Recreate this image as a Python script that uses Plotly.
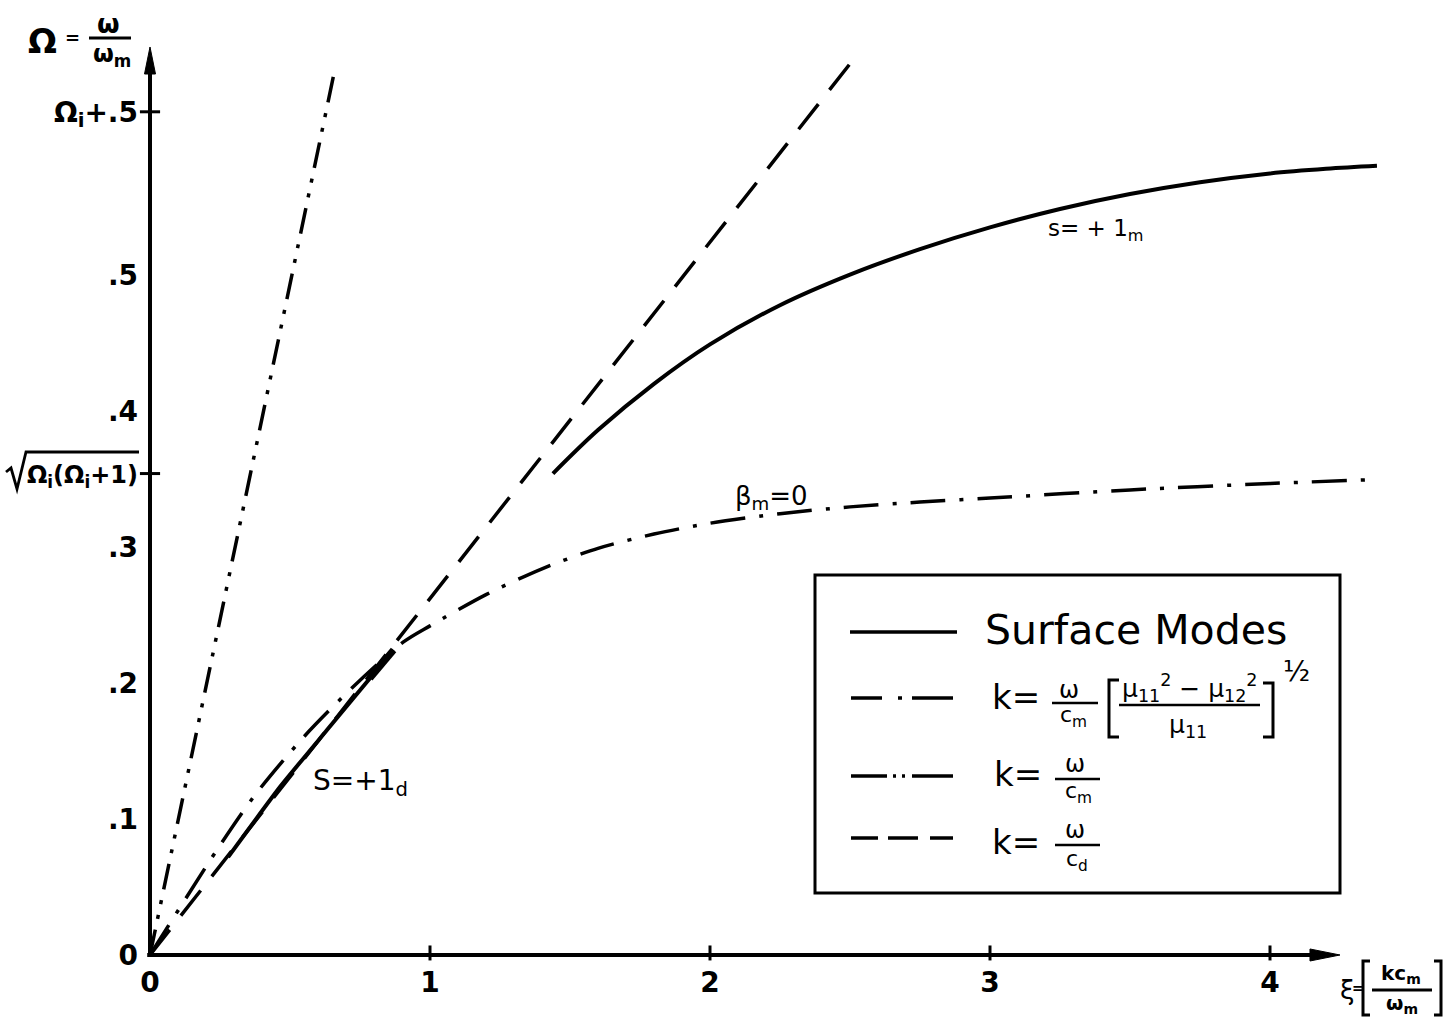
import plotly.graph_objects as go

# ---- curve data (xi = k c_m / omega_m, Omega = omega / omega_m) ----
cm_x = [0.0, 0.661]                      # k = w / c_m
cm_y = [0.0, 0.652]
cd_x = [0.0, 2.518]                      # k = w / c_d
cd_y = [0.0, 0.660]
beta_x = [0.0, 0.239, 0.375, 0.546, 0.721, 0.904, 1.0, 1.2, 1.4, 1.6, 1.8,
          2.0, 2.25, 2.5, 2.75, 3.0, 3.5, 4.0, 4.339]
beta_y = [0.0, 0.0772, 0.1176, 0.1596, 0.1963, 0.230, 0.242, 0.265, 0.284, 0.299, 0.3095,
          0.3175, 0.3245, 0.3295, 0.333, 0.336, 0.342, 0.3467, 0.3493]
surf_d_x = [0.279, 0.464, 0.632, 0.796, 0.870]          # s = +1_d branch
surf_d_y = [0.072, 0.1235, 0.1654, 0.206, 0.2243]
surf_d_end_x = [0.785, 0.870]
surf_d_end_y = [0.2035, 0.2243]
surf_m_x = [1.439, 1.6, 1.8, 2.0, 2.25, 2.5, 2.75, 3.0, 3.25, 3.5, 3.75, 4.0, 4.2, 4.382]
surf_m_y = [0.354, 0.386, 0.420, 0.449, 0.4778, 0.5003, 0.519, 0.535, 0.5485, 0.5595,
            0.5682, 0.5747, 0.5781, 0.5803]

x_ticks = [0, 1, 2, 3, 4]
x_ticktext = ["<b>0</b>", "<b>1</b>", "<b>2</b>", "<b>3</b>", "<b>4</b>"]
omega_i_root = 0.354
omega_i_half = 0.62
y_ticks = [0, 0.1, 0.2, 0.3, omega_i_root, 0.4, 0.5, omega_i_half]
y_ticktext = ["<b>0</b>", "<b>.1</b>", "<b>.2</b>", "<b>.3</b>",
              "<span style='font-size:24px'><b>Ω<sub>i</sub>(Ω<sub>i</sub>+1)</b></span>",
              "<b>.4</b>", "<b>.5</b>", "<b>Ω<sub>i</sub>+.5</b>"]
x_arrow_end = 4.246
y_arrow_end = 0.668

FONT = "DejaVu Sans"
W, H = 1450, 1018
ML, MR, MT, MB = 122, 40, 20, 29
XR = [-0.1, 4.5]
YR = [-0.025, 0.6875]


def px(x):
    return (x - ML) / (W - ML - MR)


def py(y):
    return (H - MB - y) / (H - MT - MB)


fig = go.Figure()

fig.add_trace(go.Scatter(x=cm_x, y=cm_y, mode="lines",
                         line=dict(color="black", width=3.5, dash="26px,11px,4px,11px,4px,11px")))
fig.add_trace(go.Scatter(x=cd_x, y=cd_y, mode="lines",
                         line=dict(color="black", width=3.5, dash="32px,18px")))
fig.add_trace(go.Scatter(x=beta_x, y=beta_y, mode="lines",
                         line=dict(color="black", width=3.5, dash="35px,14px,4px,14px",
                                   shape="spline", smoothing=0.8)))
fig.add_trace(go.Scatter(x=surf_d_x, y=surf_d_y, mode="lines",
                         line=dict(color="black", width=4, shape="spline", smoothing=0.5)))
fig.add_trace(go.Scatter(x=surf_d_end_x, y=surf_d_end_y, mode="lines",
                         line=dict(color="black", width=7)))
fig.add_trace(go.Scatter(x=surf_m_x, y=surf_m_y, mode="lines",
                         line=dict(color="black", width=4, shape="spline", smoothing=1.0)))

shapes = []
annotations = []


def seg(x0, y0, x1, y1, w=3):
    shapes.append(dict(type="line", xref="paper", yref="paper",
                       x0=px(x0), y0=py(y0), x1=px(x1), y1=py(y1),
                       line=dict(color="black", width=w)))


def poly(points, w=3, fill=None):
    d = "M " + " L ".join(f"{px(a):.5f},{py(b):.5f}" for a, b in points)
    if fill:
        d += " Z"
    shapes.append(dict(type="path", xref="paper", yref="paper", path=d,
                       line=dict(color="black", width=w),
                       fillcolor=fill if fill else "rgba(0,0,0,0)"))


def txt(x, y, s, size, anchor="center", bold=False):
    if bold:
        s = f"<b>{s}</b>"
    annotations.append(dict(x=px(x), y=py(y), xref="paper", yref="paper", text=s,
                            showarrow=False, xanchor=anchor, yanchor="middle",
                            font=dict(family=FONT, size=size, color="black")))


# axes with arrowheads
shapes.append(dict(type="line", xref="x", yref="y", x0=0, y0=0, x1=0, y1=y_arrow_end - 0.012,
                   line=dict(color="black", width=4)))
shapes.append(dict(type="line", xref="x", yref="y", x0=-0.01, y0=0, x1=x_arrow_end - 0.06, y1=0,
                   line=dict(color="black", width=4)))
poly([(150, 47), (144.5, 74), (155.5, 74)], w=1, fill="black")
poly([(1340, 955), (1310, 949), (1310, 961)], w=1, fill="black")

# small cross ticks
for xv in x_ticks[1:]:
    shapes.append(dict(type="line", xref="x", yref="y", x0=xv, x1=xv, y0=-0.004, y1=0.007,
                       line=dict(color="black", width=3)))
for yv in [omega_i_root, omega_i_half]:
    shapes.append(dict(type="line", xref="x", yref="y", x0=-0.036, x1=0.036, y0=yv, y1=yv,
                       line=dict(color="black", width=3)))

# radical sign over the root label
poly([(6, 472), (11, 468), (17, 489), (26, 452), (139, 452)], w=2.8)

# axis titles
txt(42, 41, "Ω", 34, bold=True)
txt(72, 38, "=", 18, bold=True)
txt(108, 24, "ω", 26, bold=True)
seg(89, 38, 131, 38, w=3)
txt(112, 56, "ω<sub>m</sub>", 24, bold=True)

txt(1347, 990, "ξ", 26)
txt(1358, 988, "=", 14, bold=True)
poly([(1370, 961), (1363, 961), (1363, 1015), (1370, 1015)], w=3)
txt(1401, 974, "kc<sub>m</sub>", 20, bold=True)
seg(1372, 990, 1432, 990, w=3)
txt(1402, 1004, "ω<sub>m</sub>", 20, bold=True)
poly([(1434, 961), (1441, 961), (1441, 1015), (1434, 1015)], w=3)

# curve labels
txt(360, 782, "S=+1<sub>d</sub>", 28)
txt(1095, 230, "s= + 1<sub>m</sub>", 23)
txt(771, 497, "β<sub>m</sub>=0", 26)

# legend box
shapes.append(dict(type="rect", xref="paper", yref="paper",
                   x0=px(815), y0=py(893), x1=px(1340), y1=py(575),
                   line=dict(color="black", width=3)))
# row 1: solid
seg(850, 632, 957, 632, w=3.5)
txt(983, 630, "Surface Modes", 41, anchor="left")
# row 2: dash-dot
seg(851, 698, 882, 698, w=3.5)
seg(898, 698, 902, 698, w=3.5)
seg(912, 698, 953, 698, w=3.5)
txt(990, 697, "k=", 34, anchor="left")
txt(1069, 690, "ω", 24)
seg(1052, 703, 1098, 703, w=2.5)
txt(1073, 716, "c<sub>m</sub>", 22)
poly([(1119, 680), (1109, 680), (1109, 737), (1119, 737)], w=3)
txt(1190, 688, "μ<sub>11</sub><sup>2</sup> − μ<sub>12</sub><sup>2</sup>", 25)
seg(1119, 705, 1260, 705, w=2.5)
txt(1188, 726, "μ<sub>11</sub>", 25)
poly([(1263, 683), (1273, 683), (1273, 737), (1263, 737)], w=3)
txt(1296, 672, "½", 28)
# row 3: dash-dot-dot
seg(851, 776, 887, 776, w=3.5)
seg(893, 776, 896, 776, w=3.5)
seg(902, 776, 905, 776, w=3.5)
seg(912, 776, 953, 776, w=3.5)
txt(992, 774, "k=", 34, anchor="left")
txt(1075, 764, "ω", 24)
seg(1055, 779, 1100, 779, w=2.5)
txt(1078, 792, "c<sub>m</sub>", 22)
# row 4: dashed
seg(851, 838, 878, 838, w=3.5)
seg(888, 838, 918, 838, w=3.5)
seg(930, 838, 953, 838, w=3.5)
txt(990, 842, "k=", 34, anchor="left")
txt(1075, 830, "ω", 24)
seg(1055, 845, 1100, 845, w=2.5)
txt(1077, 860, "c<sub>d</sub>", 22)

xpos = (0 - YR[0]) / (YR[1] - YR[0])
ypos = (0 - XR[0]) / (XR[1] - XR[0])

fig.update_layout(
    width=W, height=H,
    margin=dict(l=ML, r=MR, t=MT, b=MB, pad=0),
    paper_bgcolor="white", plot_bgcolor="white",
    showlegend=False,
    font=dict(family=FONT, color="black"),
    xaxis=dict(range=XR, showgrid=False, zeroline=False, showline=False, ticks="",
               tickvals=x_ticks, ticktext=x_ticktext, anchor="free", position=xpos,
               tickfont=dict(size=28, family=FONT, color="black"), ticklabelstandoff=8),
    yaxis=dict(range=YR, showgrid=False, zeroline=False, showline=False, ticks="",
               tickvals=y_ticks, ticktext=y_ticktext, anchor="free", position=ypos,
               tickfont=dict(size=28, family=FONT, color="black"), ticklabelstandoff=12),
    shapes=shapes, annotations=annotations,
)

fig.write_html("out.html")
